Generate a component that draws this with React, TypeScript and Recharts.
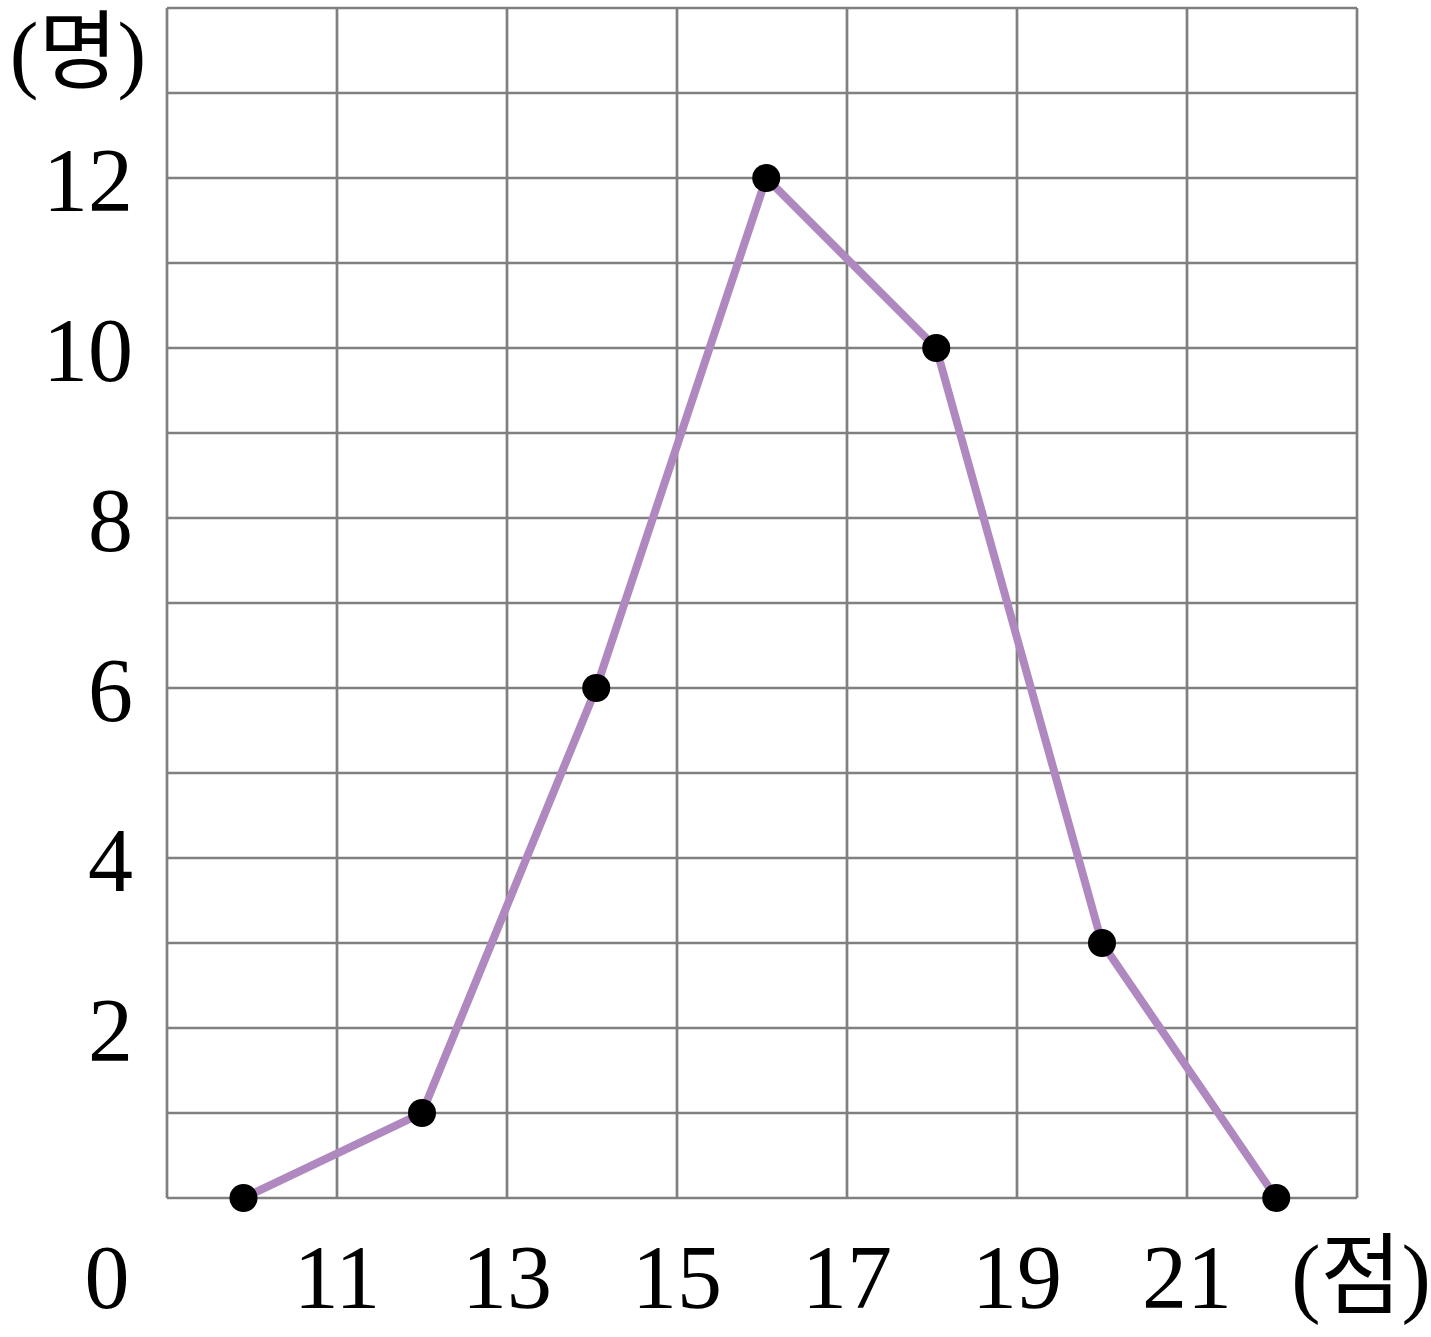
import React from 'react';
import { LineChart, Line, XAxis, YAxis, CartesianGrid } from 'recharts';

// class marks (점) and frequency (명)
const scores = [9.9, 12, 14.05, 16.05, 18.05, 20, 22.05];
const counts = [0, 1, 6, 12, 10, 3, 0];

const xTicks = [11, 13, 15, 17, 19, 21];
const yTicks = [2, 4, 6, 8, 10, 12];
const xGrid = [9, 11, 13, 15, 17, 19, 21, 23];
const yGrid = [0, 1, 2, 3, 4, 5, 6, 7, 8, 9, 10, 11, 12, 13, 14];

const data = scores.map((s, i) => ({ score: s, count: counts[i] }));

const FONT = "'Liberation Serif', 'DejaVu Serif', 'Noto Sans CJK KR', serif";

const XTick = (props: any) => {
  const { x, payload } = props;
  return (
    <text x={x} y={1308} textAnchor="middle" fontFamily={FONT} fontSize={90} fill="#000">
      {payload.value}
    </text>
  );
};

const YTick = (props: any) => {
  const { y, payload } = props;
  return (
    <text x={133} y={y + 33} textAnchor="end" fontFamily={FONT} fontSize={90} fill="#000">
      {payload.value}
    </text>
  );
};

function App() {
  return (
    <div style={{ position: 'absolute', left: 0, top: 0, width: 1431, height: 1337, background: '#fff' }}>
      <LineChart
        width={1431}
        height={1337}
        data={data}
        margin={{ top: 8, right: 74, left: 0, bottom: 0 }}
      >
        <CartesianGrid
          stroke="#808080"
          strokeWidth={2.7}
          horizontalValues={yGrid}
          verticalValues={xGrid}
        />
        <XAxis
          dataKey="score"
          type="number"
          domain={[9, 23]}
          ticks={xTicks}
          height={139}
          axisLine={false}
          tickLine={false}
          tick={<XTick />}
          interval={0}
        />
        <YAxis
          type="number"
          domain={[0, 14]}
          ticks={yTicks}
          width={167}
          axisLine={false}
          tickLine={false}
          tick={<YTick />}
          interval={0}
        />
        <Line
          type="linear"
          dataKey="count"
          stroke="#AF88C0"
          strokeWidth={8}
          dot={{ r: 14, fill: '#000', stroke: 'none' }}
          activeDot={false}
          isAnimationActive={false}
        />
      </LineChart>
      <svg width={1431} height={1337} style={{ position: 'absolute', left: 0, top: 0, pointerEvents: 'none' }}>
        <text x={78} y={82} textAnchor="middle" fontFamily={FONT} fontSize={86} fill="#000">(명)</text>
        <text x={107} y={1308} textAnchor="middle" fontFamily={FONT} fontSize={90} fill="#000">0</text>
        <text x={1361} y={1306} textAnchor="middle" fontFamily={FONT} fontSize={88} fill="#000">(점)</text>
      </svg>
    </div>
  );
}

export default App;
